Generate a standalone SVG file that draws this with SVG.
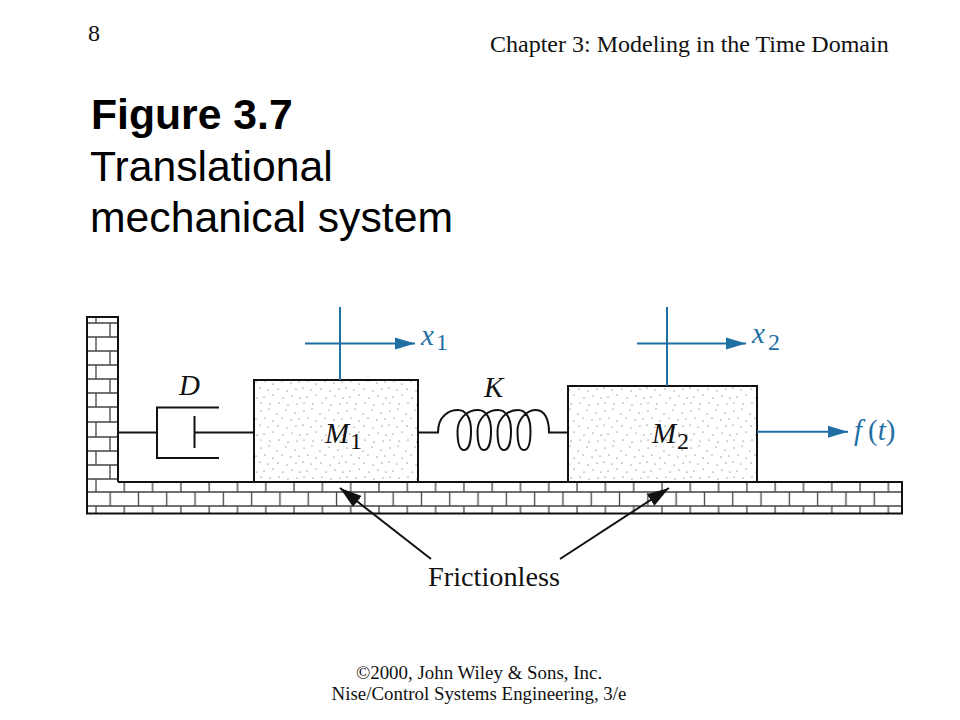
<svg xmlns="http://www.w3.org/2000/svg" width="960" height="720" viewBox="0 0 960 720">
<style>
.t{font-family:"Liberation Serif","Times New Roman",serif;fill:#111}
.i{font-style:italic}
.h{font-family:"Liberation Sans",Arial,sans-serif;font-size:42.7px;fill:#000}
.k{fill:none;stroke:#111;stroke-width:2}
.b{fill:none;stroke:#1f6fa5;stroke-width:2}
.bt{fill:#1f6fa5}
.br{fill:none;stroke:#444;stroke-width:1.300}
.bx{stroke:#111;stroke-width:2;fill:url(#st)}
.sm{font-size:24px}.lb{font-size:29px}.sb{font-size:24px}
</style>
<defs>
<pattern id="st" patternUnits="userSpaceOnUse" width="43" height="37">
<rect width="43" height="37" fill="#fff"/>
<g fill="#444"><circle cx="3" cy="4" r=".6"/><circle cx="11" cy="2" r=".55"/><circle cx="19" cy="7" r=".6"/><circle cx="28" cy="3" r=".55"/><circle cx="37" cy="6" r=".6"/><circle cx="7" cy="11" r=".55"/><circle cx="15" cy="14" r=".6"/><circle cx="24" cy="11" r=".55"/><circle cx="33" cy="13" r=".6"/><circle cx="41" cy="12" r=".55"/><circle cx="2" cy="18" r=".6"/><circle cx="10" cy="20" r=".55"/><circle cx="20" cy="19" r=".6"/><circle cx="29" cy="21" r=".55"/><circle cx="38" cy="19" r=".6"/><circle cx="6" cy="27" r=".6"/><circle cx="15" cy="25" r=".55"/><circle cx="25" cy="28" r=".6"/><circle cx="34" cy="26" r=".55"/><circle cx="42" cy="28" r=".6"/><circle cx="3" cy="33" r=".55"/><circle cx="12" cy="34" r=".6"/><circle cx="21" cy="33" r=".55"/><circle cx="30" cy="35" r=".6"/><circle cx="39" cy="34" r=".55"/></g>
</pattern>
<pattern id="fa" patternUnits="userSpaceOnUse" x="95" y="0" width="28.3" height="720"><path d="M1 482V492M1 506V513" class="br"/><path d="M15.150 492V506" class="br"/></pattern>
<marker id="ab" markerUnits="userSpaceOnUse" markerWidth="20" markerHeight="14" refX="20" refY="7" orient="auto"><path d="M0 1L20 7L0 13Z" fill="#1f6fa5"/></marker>
<marker id="ak" markerUnits="userSpaceOnUse" markerWidth="22" markerHeight="16" refX="22" refY="8" orient="auto"><path d="M0 1L22 8L0 15Z" fill="#111"/></marker>
</defs>
<rect width="960" height="720" fill="#fff"/>
<g id="header">
<text class="t sm" x="88" y="41">8</text>
<text class="t sm" x="490" y="52">Chapter 3: Modeling in the Time Domain</text>
</g>
<g id="title">
<text class="h" x="91" y="129" font-weight="bold">Figure 3.7</text>
<text class="h" x="90" y="181">Translational</text>
<text class="h" x="90" y="232">mechanical system</text>
</g>
<g id="footer">
<text class="t" font-size="18.900" x="479" y="679" text-anchor="middle">©2000, John Wiley &amp; Sons, Inc.</text>
<text class="t" font-size="18.900" x="479" y="700" text-anchor="middle">Nise/Control Systems Engineering, 3/e</text>
</g>
<g id="wall">
<path class="br" d="M87 323H118M87 337H118M87 351H118M87 365H118M87 379H118M87 393H118M87 407H118M87 422H118M87 437H118M87 451H118M87 465H118M87 479H118"/>
<path class="br" d="M96 317V323M110 323V337M96 337V351M110 351V365M96 365V379M110 379V393M96 393V407M110 407V422M96 422V437M110 437V451M96 451V465M110 465V479M96 479V482"/>
</g>
<g id="floor">
<rect x="87" y="482" width="815" height="31.5" fill="url(#fa)"/>
<path class="br" d="M87 492H902M87 506H902"/>
<path class="k" d="M118 482V317H87V513.500H902V482H118"/>
</g>
<g id="damper">
<path class="k" d="M118 432.500H157M219 407.500H157V458H219M194.500 416V448M195 432.500H254"/>
<text class="t i lb" x="179" y="395">D</text>
</g>
<g id="spring">
<path class="k" d="M418 432.500H438C438 415 450 410 458 410C466 410 471 418 471 431C471 444 468 450 464 450C460 450 457.500 444 457.500 431C457.500 418 468 410 478 410C486 410 491 418 491 431C491 444 488 450 484 450C480 450 477.500 444 477.500 431C477.500 418 488 410 498 410C506 410 511 418 511 431C511 444 508 450 504 450C500 450 497.500 444 497.500 431C497.500 418 508 410 518 410C526 410 530.500 418 530.500 431C530.500 444 528 450 524 450C520 450 517.500 444 517.500 431C517.500 418 528 410 536 410C545 410 549 420 549 432.500H568"/>
<text class="t i lb" x="484" y="397">K</text>
</g>
<g id="m1">
<rect class="bx" x="254" y="380" width="164" height="102"/>
<text class="t i lb" x="325" y="443">M</text>
<text class="t sb" x="350" y="449">1</text>
</g>
<g id="m2">
<rect class="bx" x="568" y="386" width="189" height="96"/>
<text class="t i lb" x="652" y="443">M</text>
<text class="t sb" x="677" y="449">2</text>
</g>
<g id="connectors">
<path class="b" d="M340 307V380M667 307V386"/>
<path class="b" d="M305 343.500H415" marker-end="url(#ab)"/>
<path class="b" d="M637 343.500H746" marker-end="url(#ab)"/>
<path class="b" d="M757 431.700H848" marker-end="url(#ab)"/>
<path class="k" d="M431 559L340 488" marker-end="url(#ak)"/>
<path class="k" d="M560 559L669 488" marker-end="url(#ak)"/>
</g>
<g id="labels">
<text class="t bt i lb" x="421" y="345">x</text><text class="t bt sb" x="436" y="350">1</text>
<text class="t bt i lb" x="752" y="343">x</text><text class="t bt sb" x="768" y="350">2</text>
<text class="t bt lb" x="854" y="440"><tspan class="i">f</tspan><tspan dx="6">(</tspan><tspan class="i">t</tspan>)</text>
<text class="t" font-size="28.300" x="428" y="586">Frictionless</text>
</g>
</svg>
